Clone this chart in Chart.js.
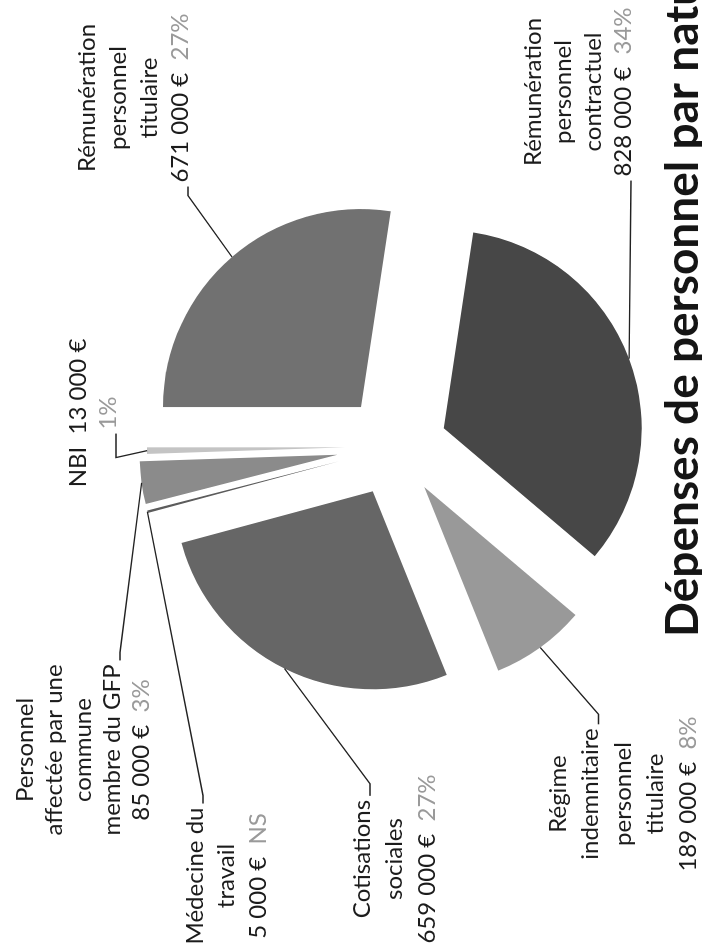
<!DOCTYPE html>
<html lang="fr">
<head>
<meta charset="utf-8">
<title>Dépenses de personnel par nature</title>
<script src="https://cdn.jsdelivr.net/npm/chart.js@4/dist/chart.umd.min.js"></script>
<style>
  html, body { margin: 0; padding: 0; background: #fff; overflow: hidden; }
  #page { position: absolute; left: 0; top: 0; width: 702px; height: 944px; overflow: hidden; }
  /* the chart is laid out landscape and turned a quarter turn */
  #sheet {
    position: absolute; left: 0; top: 0; width: 944px; height: 702px;
    transform-origin: 0 0; transform: translate(0, 944px) rotate(-90deg);
  }
  #depensesChart { display: block; }
</style>
</head>
<body>
<div id="page">
  <div id="sheet"><canvas id="depensesChart" width="944" height="702"></canvas></div>
</div>
<script>
const categories = [
  'Rémunération personnel titulaire',
  'Rémunération personnel contractuel',
  'Régime indemnitaire personnel titulaire',
  'Cotisations sociales',
  'Médecine du travail',
  'Personnel affectée par une commune membre du GFP',
  'NBI'
];
const amounts = [671000, 828000, 189000, 659000, 5000, 85000, 13000];
const shares = ['27%', '34%', '8%', '27%', 'NS', '3%', '1%'];

const sliceColors = ['#717171', '#474747', '#999999', '#666666', '#5c5c5c', '#8b8b8b', '#c4c4c4'];
const explode = [52, 52, 50, 50, 58, 58, 50];

// label blocks: wrapped name lines, centre x, first line y, line gap, leader attachment
const labelLayout = [
  { lines: ['Rémunération', 'personnel', 'titulaire'], x: 846, y: 87, gap: 31, line: 3, side: 'left', stub: 9 },
  { lines: ['Rémunération', 'personnel', 'contractuel'], x: 852, y: 533, gap: 30, line: 3, side: 'left', stub: 0 },
  { lines: ['Régime', 'indemnitaire', 'personnel', 'titulaire'], x: 150, y: 558, gap: 32.5, line: 1, side: 'right', stub: 10 },
  { lines: ['Cotisations', 'sociales'], x: 85, y: 362, gap: 32.5, line: 0, side: 'right', stub: 12 },
  { lines: ['Médecine du', 'travail'], x: 68, y: 195, gap: 31.5, line: 0, side: 'right', stub: 8 },
  { lines: ['Personnel', 'affectée par une', 'commune', 'membre du GFP'], x: 194, y: 25, gap: 29, line: 3, side: 'right', stub: 8 },
  { lines: [], inline: 'NBI  ', x: 531, y: 78, gap: 30, line: 1, side: 'left', stub: 24 }
];

const LABEL_FONT = '24px Lato, "Open Sans", sans-serif';
const TITLE_FONT = 'bold 46px Lato, "Open Sans", sans-serif';

function euros(v) {
  return String(v).replace(/\B(?=(\d{3})+(?!\d))/g, ' ') + ' €';
}

// push each slice out along its bisector
const explodePlugin = {
  id: 'explodeSlices',
  afterDatasetUpdate(chart, args) {
    args.meta.data.forEach((arc, i) => {
      const mid = (arc.startAngle + arc.endAngle) / 2;
      arc.x += Math.cos(mid) * explode[i];
      arc.y += Math.sin(mid) * explode[i];
    });
  }
};

const labelPlugin = {
  id: 'sliceLabels',
  afterDraw(chart) {
    const ctx = chart.ctx;
    const arcs = chart.getDatasetMeta(0).data;
    ctx.save();
    ctx.font = LABEL_FONT;
    ctx.textBaseline = 'middle';
    ctx.textAlign = 'left';

    labelLayout.forEach((lay, i) => {
      const rows = lay.lines.map(t => [{ text: t, color: '#1c1c1c' }]);
      if (lay.inline) {
        rows.push([{ text: lay.inline + euros(amounts[i]), color: '#1c1c1c' }]);
        rows.push([{ text: shares[i], color: '#9a9a9a' }]);
      } else {
        rows.push([{ text: euros(amounts[i]) + '  ', color: '#1c1c1c' }, { text: shares[i], color: '#9a9a9a' }]);
      }

      const widths = rows.map(r => r.reduce((s, seg) => s + ctx.measureText(seg.text).width, 0));
      rows.forEach((r, k) => {
        let x = lay.x - widths[k] / 2;
        const y = lay.y + k * lay.gap;
        r.forEach(seg => {
          ctx.fillStyle = seg.color;
          ctx.fillText(seg.text, x, y);
          x += ctx.measureText(seg.text).width;
        });
      });

      // leader line from the label to the middle of the slice's rim
      const arc = arcs[i];
      const mid = (arc.startAngle + arc.endAngle) / 2;
      const tx = arc.x + Math.cos(mid) * arc.outerRadius;
      const ty = arc.y + Math.sin(mid) * arc.outerRadius;
      const rowY = lay.y + lay.line * lay.gap + 8;
      const half = widths[lay.line] / 2;
      const dir = lay.side === 'left' ? -1 : 1;
      const x0 = lay.x + dir * (half + 4);
      const x1 = x0 + dir * lay.stub;
      ctx.beginPath();
      ctx.moveTo(x0, rowY);
      ctx.lineTo(x1, rowY);
      ctx.lineTo(tx, ty);
      ctx.strokeStyle = '#222';
      ctx.lineWidth = 1.3;
      ctx.stroke();
    });

    ctx.font = TITLE_FONT;
    ctx.fillStyle = '#151515';
    ctx.textBaseline = 'alphabetic';
    ctx.fillText('Dépenses de personnel par nature', 307, 698);
    ctx.restore();
  }
};

new Chart(document.getElementById('depensesChart'), {
  type: 'pie',
  data: {
    labels: categories,
    datasets: [{
      data: amounts,
      backgroundColor: sliceColors,
      borderWidth: 0
    }]
  },
  options: {
    responsive: false,
    animation: false,
    radius: 198,
    layout: { padding: { left: 51, right: 0, top: 88, bottom: 0 } },
    plugins: {
      legend: { display: false },
      tooltip: { enabled: false }
    }
  },
  plugins: [explodePlugin, labelPlugin]
});
</script>
</body>
</html>
